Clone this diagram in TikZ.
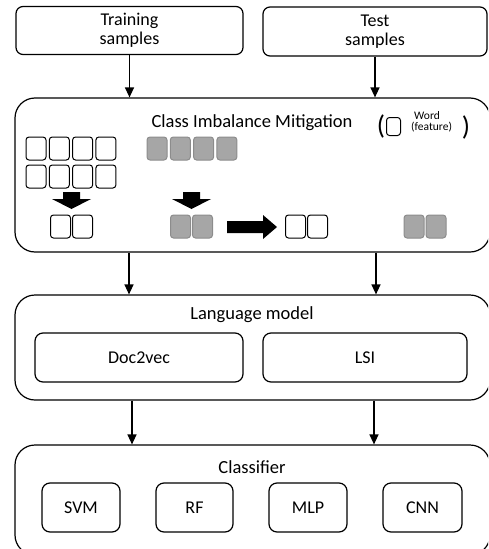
\documentclass[tikz,border=0pt]{standalone}
\usepackage{fontspec}
\setmainfont{Carlito}
\usetikzlibrary{arrows.meta}
\definecolor{gfill}{HTML}{A6A6A6}
\definecolor{gedge}{HTML}{8C8C8C}
\tikzset{
  big/.style={draw, line width=1.2pt, rounded corners=7pt, inner sep=0pt, font=\fontsize{18}{19}\selectfont, align=center},
  outer/.style={draw, line width=1.2pt, rounded corners=20pt, inner sep=0pt},
  sub/.style={draw, line width=1.2pt, rounded corners=8pt, inner sep=0pt, font=\fontsize{18}{19}\selectfont},
  ttl/.style={font=\fontsize{18.5}{19}\selectfont, inner sep=0pt},
  small/.style={font=\fontsize{11.5}{12}\selectfont, inner sep=0pt, anchor=west},
  wbox/.style={draw, line width=1pt, rounded corners=3pt, minimum width=20pt, minimum height=23pt, inner sep=0pt},
  gbox/.style={draw=gedge, fill=gfill, line width=1pt, rounded corners=3pt, minimum width=20pt, minimum height=23pt, inner sep=0pt},
  conn/.style={line width=1.3pt, -{Triangle[width=9pt,length=10pt]}},
  blk/.style={fill=black},
}
\begin{document}
\begin{tikzpicture}[x=1pt,y=-1pt]
\useasboundingbox (0,0) rectangle (488,549);
\clip (0,0) rectangle (488,549);
% top boxes
\node[big, minimum width=227pt, minimum height=48pt] (train) at (129.5,30.5) {Training\\samples};
\node[big, minimum width=224pt, minimum height=49pt] (test) at (375,31.5) {Test\\samples};
% CIM
\node[outer, minimum width=475pt, minimum height=154pt] (cim) at (252.5,175) {};
\node[ttl] (cimt) at (252,123) {Class Imbalance Mitigation};
\node[ttl, font=\fontsize{27}{27}\selectfont] (lp) at (381,127) {(};
\node[wbox, minimum width=14pt, minimum height=18pt] (legbox) at (393.5,126.5) {};
\node[small] (legw) at (414,116) {Word};
\node[small] (legf) at (411,127) {(feature)};
\node[ttl, font=\fontsize{27}{27}\selectfont] (rp) at (466,127) {)};
% white grid
\foreach \i in {0,1,2,3}{
  \node[wbox] (wa\i) at ({36+\i*23.3},148.5) {};
  \node[wbox] (wb\i) at ({36+\i*23.3},176.5) {};
  \node[gbox] (ga\i) at ({157+\i*23.3},148.5) {};
}
% block arrows down
\fill[blk] (63,192) -- (80,192) -- (80,199) -- (91,199) -- (71.5,209) -- (52,199) -- (63,199) -- cycle;
\fill[blk] (183,192) -- (200,192) -- (200,199) -- (211,199) -- (191.5,209) -- (172,199) -- (183,199) -- cycle;
% block arrow right
\fill[blk] (227,221) -- (263,221) -- (263,215) -- (277,227) -- (263,239) -- (263,233) -- (227,233) -- cycle;
% pairs
\node[wbox] (p1a) at (60.5,226.5) {};
\node[wbox] (p1b) at (82.5,226.5) {};
\node[gbox] (p2a) at (180.5,226.5) {};
\node[gbox] (p2b) at (202.5,226.5) {};
\node[wbox] (p3a) at (295.5,226.5) {};
\node[wbox] (p3b) at (317.5,226.5) {};
\node[gbox] (p4a) at (414,226.5) {};
\node[gbox] (p4b) at (436,226.5) {};
% Language model
\node[outer, minimum width=475pt, minimum height=105pt] (lm) at (252.5,347.5) {};
\node[ttl] (lmt) at (252,315) {Language model};
\node[sub, minimum width=208pt, minimum height=49pt] (d2v) at (139,357.5) {Doc2vec};
\node[sub, minimum width=204pt, minimum height=49pt] (lsi) at (365,357.5) {LSI};
% Classifier
\node[outer, minimum width=475pt, minimum height=110pt] (cls) at (252.5,500) {};
\node[ttl] (clst) at (252,467) {Classifier};
\node[sub, minimum width=78pt, minimum height=49pt] (svm) at (81,507.5) {SVM};
\node[sub, minimum width=77pt, minimum height=49pt] (rf) at (194.5,507.5) {RF};
\node[sub, minimum width=78pt, minimum height=49pt] (mlp) at (308,507.5) {MLP};
\node[sub, minimum width=79pt, minimum height=49pt] (cnn) at (422.5,507.5) {CNN};
% connectors
\draw[conn] (train.south) -- (train.south |- cim.north);
\draw[conn] (test.south) -- (test.south |- cim.north);
\coordinate (c1) at (129,0);
\coordinate (c2) at (376,0);
\draw[conn] (c1 |- cim.south) -- (c1 |- lm.north);
\draw[conn] (c2 |- cim.south) -- (c2 |- lm.north);
\coordinate (c3) at (132,0);
\coordinate (c4) at (374,0);
\draw[conn] (c3 |- lm.south) -- (c3 |- cls.north);
\draw[conn] (c4 |- lm.south) -- (c4 |- cls.north);
\end{tikzpicture}
\end{document}
